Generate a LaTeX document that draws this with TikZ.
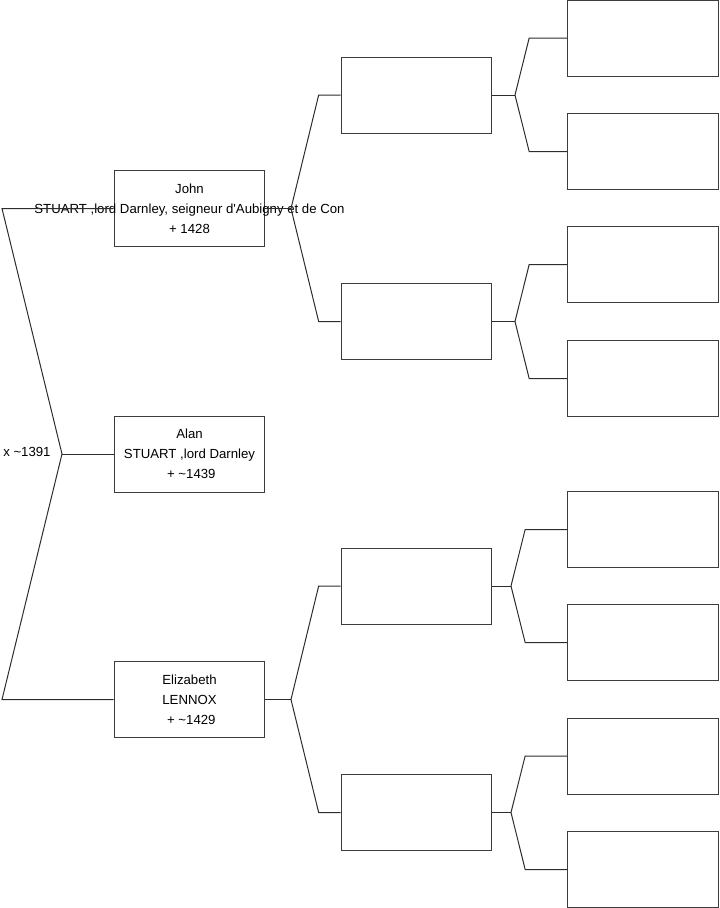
\documentclass[tikz,border=0pt]{standalone}
\usepackage{fontspec}
\setmainfont{Liberation Sans}
\definecolor{linegray}{RGB}{45,45,45}
\definecolor{boxgray}{RGB}{60,60,60}

\begin{document}
\begin{tikzpicture}[x=0.75pt, y=-0.75pt, font=\fontsize{9.9}{15}\selectfont,
  personbox/.style={draw=boxgray, line width=0.75pt, minimum width=113pt, minimum height=57pt, inner sep=0pt, align=center},
  link/.style={draw=linegray, line width=0.75pt}]
\useasboundingbox (0,0) rectangle (719,908);
% generation 1
\node[personbox] (john) at (189.5,208.5) {John\\\makebox[0pt]{STUART ,lord Darnley, seigneur d\textquotesingle Aubigny et de Con}\\+ 1428};
\node[personbox] (alan) at (189.5,454) {Alan\\STUART ,lord Darnley\\~+ \textasciitilde1439};
\node[personbox] (eliz) at (189.5,699.5) {Elizabeth\\LENNOX\\~+ \textasciitilde1429};
\node[anchor=west, inner sep=0pt] (marr) at (3,452) {x \textasciitilde1391};
% generation 2
\node[personbox] (a1) at (416.5,95) {};
\node[personbox] (a2) at (416.5,321.5) {};
\node[personbox] (b1) at (416.5,586) {};
\node[personbox] (b2) at (416.5,812.5) {};
% generation 3
\node[personbox] (a11) at (643,38) {};
\node[personbox] (a12) at (643,151.5) {};
\node[personbox] (a21) at (643,264.5) {};
\node[personbox] (a22) at (643,378.5) {};
\node[personbox] (b11) at (643,529.5) {};
\node[personbox] (b12) at (643,642.5) {};
\node[personbox] (b21) at (643,756) {};
\node[personbox] (b22) at (643,869.5) {};
% forks
\coordinate (fm) at (62,454);
\coordinate (jl) at (2,208.5);
\coordinate (el) at (2,699.5);
\coordinate (fj) at (291,208.5);
\coordinate (fe) at (291,699.5);
\coordinate (fa1) at (515,95);
\coordinate (fa2) at (515,321.5);
\coordinate (fb1) at (511,586);
\coordinate (fb2) at (511,812.5);
\draw[link] (john.west) -- (jl) -- (fm) -- (el) -- (eliz.west);
\draw[link] (fm) -- (alan.west);
\draw[link] (john.east) -- (fj);
\draw[link] (eliz.east) -- (fe);
\draw[link] (a1.east) -- (fa1);
\draw[link] (a2.east) -- (fa2);
\draw[link] (b1.east) -- (fb1);
\draw[link] (b2.east) -- (fb2);
\foreach \c/\f/\d in {a1/fj/22, a2/fj/22, b1/fe/22, b2/fe/22,
    a11/fa1/38, a12/fa1/38, a21/fa2/38, a22/fa2/38,
    b11/fb1/42, b12/fb1/42, b21/fb2/42, b22/fb2/42}
  \draw[link] (\c.west) -- ++(-\d,0) -- (\f);
\end{tikzpicture}
\end{document}
